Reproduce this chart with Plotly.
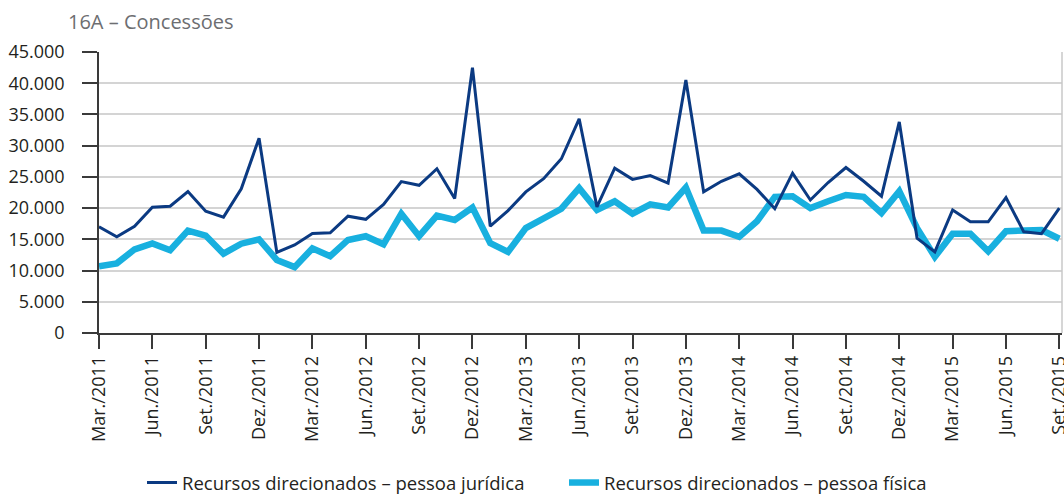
import plotly.graph_objects as go

# Monthly series, Mar./2011 – Set./2015
month_abbr = ["Jan.", "Fev.", "Mar.", "Abr.", "Mai.", "Jun.",
              "Jul.", "Ago.", "Set.", "Out.", "Nov.", "Dez."]

months = []
y, m = 2011, 2  # zero-based month index: 2 -> Mar.
while (y, m) <= (2015, 8):
    months.append(f"{month_abbr[m]}/{y}")
    m += 1
    if m == 12:
        m, y = 0, y + 1

juridica = [17000, 15400, 17100, 20150, 20300, 22650, 19500, 18550, 23100, 31200,
            12900, 14100, 15950, 16050, 18700, 18200, 20600, 24250, 23650, 26300,
            21550, 42500, 17100, 19600, 22600, 24700, 27900, 34300, 20200, 26400,
            24600, 25200, 24000, 40500, 22600, 24300, 25500, 23000, 19900, 25600,
            21300, 24100, 26500, 24300, 21900, 33800, 15200, 13000, 19700, 17800,
            17800, 21700, 16200, 15900, 20000]

fisica = [10700, 11150, 13400, 14350, 13250, 16400, 15600, 12700, 14300, 15000,
          11700, 10550, 13550, 12300, 14900, 15500, 14200, 19100, 15500, 18800,
          18100, 20100, 14400, 13000, 16800, 18400, 19900, 23200, 19700, 21100,
          19100, 20600, 20100, 23300, 16400, 16400, 15400, 17900, 21800, 21900,
          20000, 21100, 22100, 21800, 19200, 22700, 16800, 12200, 15900, 15900,
          13100, 16300, 16400, 16500, 15100]

tick_labels = months[::3]
y_ticks = list(range(0, 45001, 5000))

DARK = "#0b3a82"
LIGHT = "#18b0df"
TEXT = "#231f20"
FONT = "Open Sans"

W, H = 1064, 495

fig = go.Figure()
fig.add_trace(go.Scatter(
    x=months, y=fisica, mode="lines",
    name="Recursos direcionados – pessoa física",
    line=dict(color=LIGHT, width=6.5), legendrank=2,
))
fig.add_trace(go.Scatter(
    x=months, y=juridica, mode="lines",
    name="Recursos direcionados – pessoa jurídica",
    line=dict(color=DARK, width=3), legendrank=1,
))

fig.update_layout(
    width=W, height=H,
    margin=dict(l=99, r=2, t=52, b=161.5),
    paper_bgcolor="white", plot_bgcolor="white",
    separators=",.",
    font=dict(family=FONT, size=18, color=TEXT),
    title=dict(
        text="16A – Concessões",
        font=dict(family=FONT, size=20, color="#6d6e71"),
        x=68 / W, xref="container", xanchor="left",
        y=1 - 22 / H, yref="container", yanchor="middle",
    ),
    showlegend=True,
    legend=dict(
        orientation="h",
        xref="container", x=142 / W, xanchor="left",
        yref="container", y=1 - 483 / H, yanchor="middle",
        font=dict(family=FONT, size=18.5, color=TEXT),
        bgcolor="rgba(0,0,0,0)",
        entrywidth=377, entrywidthmode="pixels",
        traceorder="normal",
    ),
    xaxis=dict(
        type="category",
        range=[0, 54.15],
        tickmode="array", tickvals=tick_labels, ticktext=tick_labels,
        tickangle=-90,
        ticks="outside", ticklen=14, tickwidth=1.5, tickcolor="#3a3a3a",
        showline=True, linecolor="#3a3a3a", linewidth=1.5,
        showgrid=False, zeroline=False, automargin=False,
        tickfont=dict(family=FONT, size=18, color=TEXT),
    ),
    yaxis=dict(
        range=[0, 45000],
        tickmode="array", tickvals=y_ticks,
        tickformat=",d",
        ticks="outside", ticklen=15, tickwidth=1.5, tickcolor="#3a3a3a",
        ticklabelstandoff=14,
        showline=True, linecolor="#3a3a3a", linewidth=1.5,
        showgrid=True, gridcolor="#d4d4d4", gridwidth=1.5,
        zeroline=False, automargin=False,
        tickfont=dict(family=FONT, size=18, color=TEXT),
    ),
    shapes=[dict(
        type="line", xref="paper", yref="paper",
        x0=1, x1=1, y0=0, y1=1,
        line=dict(color="#c8c8c8", width=1.5),
    )],
)

fig.write_html("out.html")
